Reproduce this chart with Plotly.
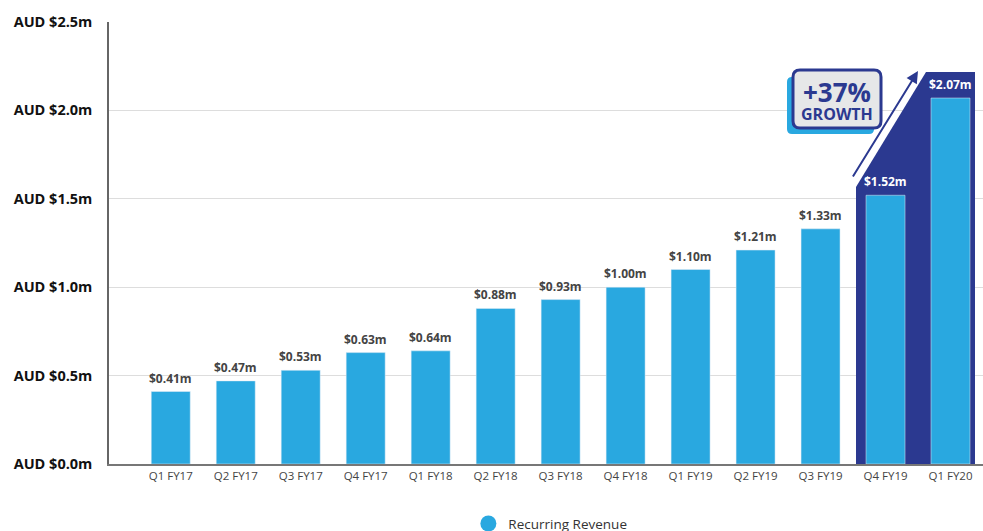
import plotly.graph_objects as go

categories = ["Q1 FY17", "Q2 FY17", "Q3 FY17", "Q4 FY17", "Q1 FY18", "Q2 FY18", "Q3 FY18",
              "Q4 FY18", "Q1 FY19", "Q2 FY19", "Q3 FY19", "Q4 FY19", "Q1 FY20"]
values = [0.41, 0.47, 0.53, 0.63, 0.64, 0.88, 0.93, 1.00, 1.10, 1.21, 1.33, 1.52, 2.07]
labels = ["$0.41m", "$0.47m", "$0.53m", "$0.63m", "$0.64m", "$0.88m", "$0.93m",
          "$1.00m", "$1.10m", "$1.21m", "$1.33m", "$1.52m", "$2.07m"]
label_colors = ["#444444"] * 11 + ["#ffffff", "#ffffff"]
y_ticks = [0, 0.5, 1.0, 1.5, 2.0, 2.5]
y_ticklabels = ["AUD $0.0m", "AUD $0.5m", "AUD $1.0m", "AUD $1.5m", "AUD $2.0m", "AUD $2.5m"]
series_name = "Recurring Revenue"
growth_text = "+37%"
growth_sub = "GROWTH"

BLUE = "#29a8e0"
NAVY = "#2b3990"
FONT = "Open Sans"

W, H = 983, 531
ML, MR, MT, MB = 109, 0, 22, 67
XR = [-0.95, 12.5]
YR = [0, 2.5]

def cx(px):
    return XR[0] + (px - ML) / (W - ML - MR) * (XR[1] - XR[0])

def vy(py):
    return YR[1] - (py - MT) / (H - MT - MB) * (YR[1] - YR[0])

xi = list(range(len(categories)))

fig = go.Figure()
fig.add_trace(go.Bar(x=xi, y=values, marker_color=BLUE, width=0.6,
                     showlegend=False, hoverinfo="skip"))
fig.add_trace(go.Scatter(x=[None], y=[None], mode="markers", name=series_name,
                         marker=dict(size=18, color=BLUE, symbol="circle")))

for i, (v, lab, col) in enumerate(zip(values, labels, label_colors)):
    fig.add_annotation(x=xi[i], y=v, text="<b>" + lab + "</b>", showarrow=False,
                       yanchor="bottom", yshift=3,
                       font=dict(family=FONT, size=12, color=col))

shapes = []
# navy highlight region
shapes.append(dict(type="path", layer="between", line=dict(width=0), fillcolor=NAVY,
                   path=f"M {cx(856)},0 L {cx(856)},{vy(187)} L {cx(926)},{vy(72)} "
                        f"L {cx(975)},{vy(72)} L {cx(975)},0 Z"))

def rounded(x0, y0, x1, y1, r):
    X = cx; Y = vy
    return (f"M {X(x0 + r)},{Y(y0)} L {X(x1 - r)},{Y(y0)} Q {X(x1)},{Y(y0)} {X(x1)},{Y(y0 + r)} "
            f"L {X(x1)},{Y(y1 - r)} Q {X(x1)},{Y(y1)} {X(x1 - r)},{Y(y1)} "
            f"L {X(x0 + r)},{Y(y1)} Q {X(x0)},{Y(y1)} {X(x0)},{Y(y1 - r)} "
            f"L {X(x0)},{Y(y0 + r)} Q {X(x0)},{Y(y0)} {X(x0 + r)},{Y(y0)} Z")

# shadow box
shapes.append(dict(type="path", layer="above", line=dict(width=0), fillcolor=BLUE,
                   path=rounded(787, 77, 874, 134, 5)))
# main box
shapes.append(dict(type="path", layer="above", line=dict(width=3, color=NAVY), fillcolor="#e6e7e8",
                   path=rounded(793, 70, 881, 128, 7)))

fig.add_annotation(x=cx(837), y=vy(92), yanchor="middle", showarrow=False,
                   text="<b>" + growth_text + "</b>",
                   font=dict(family=FONT, size=26, color=NAVY))
fig.add_annotation(x=cx(837), y=vy(114), yanchor="middle", showarrow=False,
                   text="<b>" + growth_sub + "</b>",
                   font=dict(family=FONT, size=16, color=NAVY))

# arrow
fig.add_annotation(x=cx(918), y=vy(71), ax=cx(852), ay=vy(178), xref="x", yref="y",
                   axref="x", ayref="y", text="", showarrow=True, arrowhead=2,
                   arrowsize=1.2, arrowwidth=2, arrowcolor=NAVY)

fig.update_layout(
    width=W, height=H,
    margin=dict(l=ML, r=MR, t=MT, b=MB, autoexpand=False),
    plot_bgcolor="white", paper_bgcolor="white",
    font=dict(family=FONT),
    shapes=shapes,
    legend=dict(orientation="h", x=0.505, xanchor="center", y=-0.10, yanchor="top",
                font=dict(family=FONT, size=13.5, color="#333333"), itemsizing="trace"),
    xaxis=dict(range=XR, tickmode="array", tickvals=xi, ticktext=categories,
               showgrid=False, showline=True, linecolor="#777777", linewidth=1.5,
               ticks="", tickfont=dict(family=FONT, size=11.5, color="#444444"),
               zeroline=False, automargin=False),
    yaxis=dict(range=YR, tickmode="array", tickvals=y_ticks,
               ticktext=["<b>" + t + "</b>" for t in y_ticklabels],
               showgrid=True, gridcolor="#dddddd", gridwidth=1,
               showline=True, linecolor="#666666", linewidth=1.5, ticks="",
               ticklabelstandoff=12, automargin=False,
               tickfont=dict(family=FONT, size=14.5, color="#111111"), zeroline=False),
)

fig.write_html("out.html", config={"displayModeBar": False},
               post_script="document.body.style.margin='0';document.body.style.overflow='hidden';")
